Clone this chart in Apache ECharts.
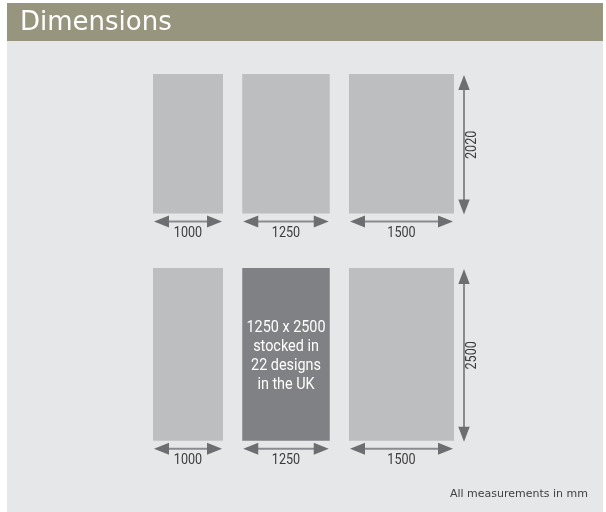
<!DOCTYPE html>
<html>
<head>
<meta charset="utf-8">
<script src="https://cdn.jsdelivr.net/npm/echarts@6/dist/echarts.min.js"></script>
<style>
html,body{margin:0;padding:0;background:#ffffff;}
#chart{width:606px;height:512px;}
</style>
</head>
<body>
<div id="chart"></div>
<script>
// ---- data ----
const widths = [1000, 1250, 1500];          // panel widths (mm)
const heights = [2020, 2500];               // panel heights (mm)
const widthLabels = ['1000', '1250', '1500'];
const heightLabels = ['2020', '2500'];
const stockedNote = ['1250 x 2500', 'stocked in', '22 designs', 'in the UK'];
const highlightRow = 1;
const highlightCol = 1;
const titleText = 'Dimensions';
const footNote = 'All measurements in mm';

// ---- layout (gaps in mm along the drawing scale) ----
const colGap = 275;
const rowGap = 786;

const cells = [];
let yStart = 0;
heights.forEach(function (h, r) {
  let xStart = 0;
  widths.forEach(function (w, c) {
    cells.push([xStart, w, yStart, h, r, c]);
    xStart += w + colGap;
  });
  yStart += h + rowGap;
});
const xMax = widths.reduce((a, b) => a + b, 0) + colGap * (widths.length - 1);
const yMax = heights.reduce((a, b) => a + b, 0) + rowGap * (heights.length - 1);

const LIGHT = '#bcbec0';
const DARK = '#808184';
const LINE = '#8a8b8e';
const HEAD = '#6d6e71';
const TXT = '#3c3c3e';
const NUMFONT = '"Roboto", "Liberation Sans", sans-serif';

function hArrow(xa, xb, y) {
  const L = 15, H = 6;
  return [
    { type: 'line', shape: { x1: xa + 4, y1: y, x2: xb - 4, y2: y }, style: { stroke: LINE, lineWidth: 2 } },
    { type: 'polygon', shape: { points: [[xa, y], [xa + L, y - H], [xa + L, y + H]] }, style: { fill: HEAD } },
    { type: 'polygon', shape: { points: [[xb, y], [xb - L, y - H], [xb - L, y + H]] }, style: { fill: HEAD } }
  ];
}
function vArrow(x, ya, yb) {
  const L = 15, H = 5.7;
  return [
    { type: 'line', shape: { x1: x, y1: ya + 4, x2: x, y2: yb - 4 }, style: { stroke: LINE, lineWidth: 2 } },
    { type: 'polygon', shape: { points: [[x, ya], [x - H, ya + L], [x + H, ya + L]] }, style: { fill: HEAD } },
    { type: 'polygon', shape: { points: [[x, yb], [x - H, yb - L], [x + H, yb - L]] }, style: { fill: HEAD } }
  ];
}

function renderItem(params, api) {
  const x0 = api.value(0), w = api.value(1), y0 = api.value(2), h = api.value(3);
  const r = api.value(4), c = api.value(5);
  const p0 = api.coord([x0, y0]);
  const p1 = api.coord([x0 + w, y0 + h]);
  const left = p0[0], top = p0[1], right = p1[0], bottom = p1[1];
  const isHi = (r === highlightRow && c === highlightCol);
  const children = [
    { type: 'rect', shape: { x: left, y: top, width: right - left, height: bottom - top }, style: { fill: isHi ? DARK : LIGHT } }
  ];
  hArrow(left + 1, right - 1, bottom + 8).forEach(e => children.push(e));
  children.push({
    type: 'text',
    x: (left + right) / 2, y: bottom + 19.5, scaleX: 0.84,
    style: { text: widthLabels[c], x: 0, y: 0, align: 'center', verticalAlign: 'middle',
      fill: TXT, font: '15px ' + NUMFONT }
  });
  if (c === widths.length - 1) {
    const vx = right + 10;
    vArrow(vx, top + 1, bottom + 1).forEach(e => children.push(e));
    children.push({
      type: 'text',
      x: vx + 8.5, y: (top + bottom) / 2 + 1,
      rotation: Math.PI / 2, scaleX: 0.84,
      style: { text: heightLabels[r], x: 0, y: 0, align: 'center', verticalAlign: 'middle', fill: TXT, font: '15px ' + NUMFONT }
    });
  }
  if (isHi) {
    children.push({
      type: 'text',
      x: (left + right) / 2, y: (top + bottom) / 2 + 2, scaleX: 0.9,
      style: { text: stockedNote.join('\n'), x: 0, y: 0,
        align: 'center', verticalAlign: 'middle', fill: '#ffffff', font: '16px ' + NUMFONT, lineHeight: 19 }
    });
  }
  return { type: 'group', children: children };
}

const chart = echarts.init(document.getElementById('chart'), null, { renderer: 'canvas' });
chart.setOption({
  animation: false,
  backgroundColor: '#ffffff',
  grid: { left: 153, top: 74, width: 301, height: 366.7, containLabel: false },
  xAxis: { type: 'value', min: 0, max: xMax, show: false },
  yAxis: { type: 'value', min: 0, max: yMax, inverse: true, show: false },
  graphic: [
    { type: 'rect', z: -10, shape: { x: 7, y: 3, width: 596, height: 509 }, style: { fill: '#e6e7e9' } },
    { type: 'rect', z: -9, shape: { x: 7, y: 3, width: 596, height: 38 }, style: { fill: '#98957f' } },
    { type: 'text', z: -8, style: { text: titleText, x: 20, y: 23, verticalAlign: 'middle', fill: '#ffffff',
        font: '26px "DejaVu Sans", sans-serif' } },
    { type: 'text', z: -8, style: { text: footNote, x: 588, y: 494, align: 'right', verticalAlign: 'middle', fill: '#414042',
        font: '11px "DejaVu Sans", sans-serif' } }
  ],
  series: [{
    type: 'custom',
    renderItem: renderItem,
    data: cells,
    encode: { x: [0], y: [2] },
    clip: false,
    silent: true
  }]
});
</script>
</body>
</html>
